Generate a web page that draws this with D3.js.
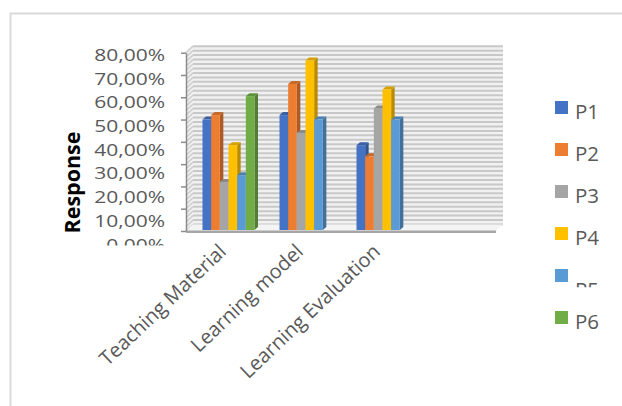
<!DOCTYPE html>
<html><head><meta charset="utf-8">
<script src="https://cdn.jsdelivr.net/npm/d3@7"></script>
<style>body{margin:0;background:#fff;overflow:hidden}</style>
</head><body>
<svg id="c" width="622" height="406"></svg>
<script>
// ---- data ----
const categories = ["Teaching Material", "Learning model", "Learning Evaluation", ""];
const seriesNames = ["P1", "P2", "P3", "P4", "P5", "P6"];
const P1 = [50, 52, 38.5, null];
const P2 = [52, 66, 33.5, null];
const P3 = [22, 44, 55, null];
const P4 = [38.5, 76.5, 63.5, null];
const P5 = [25, 50, 50, null];
const P6 = [60.5, null, null, null];
const seriesValues = [P1, P2, P3, P4, P5, P6];
const yTickValues = [0, 10, 20, 30, 40, 50, 60, 70, 80];
const yTickLabels = ["0,00%", "10,00%", "20,00%", "30,00%", "40,00%", "50,00%", "60,00%", "70,00%", "80,00%"];
const colors = ["#4472C4", "#ED7D31", "#A5A5A5", "#FFC000", "#5B9BD5", "#70AD47"];
const yTitle = "Response";

// ---- layout ----
const svg = d3.select("#c");
const font = "'Open Sans', 'Noto Sans', sans-serif";
const textColor = "#595959";

// outer border
svg.append("rect").attr("x", 10.5).attr("y", 13.5).attr("width", 700).attr("height", 500)
  .attr("fill", "#fff").attr("stroke", "#d9d9d9").attr("stroke-width", 2);

const y = d3.scaleLinear().domain([0, 80]).range([231, 52.7]);
const x = d3.scaleBand().domain(categories).range([186, 494]);
const xs = d3.scaleBand().domain(seriesNames).range([16.5, 16.5 + 52]);
const wdx = 7, wdy = -6.5; // wall depth
const bdx = 3.5, bdy = -3; // bar depth

// back wall
const wx0 = 186 + wdx, wx1 = 496 + wdx;
svg.append("rect").attr("x", wx0).attr("y", y(80) + wdy).attr("width", wx1 - wx0)
  .attr("height", y(0) - y(80)).attr("fill", "#f1f1f1");
// side wall
svg.append("path").attr("d", `M186,${y(0)}L186,${y(80)}L${wx0},${y(80)+wdy}L${wx0},${y(0)+wdy}Z`)
  .attr("fill", "#f1f1f1");
const gridVals = d3.range(0, 80.1, 2);
svg.append("g").selectAll("line").data(gridVals).join("line")
  .attr("x1", wx0).attr("x2", wx1)
  .attr("y1", d => y(d) + wdy).attr("y2", d => y(d) + wdy)
  .attr("stroke", "#c8c8c8").attr("stroke-width", 2);
svg.append("g").selectAll("line").data(gridVals).join("line")
  .attr("x1", 186).attr("x2", wx0)
  .attr("y1", d => y(d)).attr("y2", d => y(d) + wdy)
  .attr("stroke", "#cfcfcf").attr("stroke-width", 1.6);

// floor
svg.append("path").attr("d", `M186,${y(0)}L${wx0},${y(0)+wdy}L${wx1},${y(0)+wdy}L496,${y(0)}Z`)
  .attr("fill", "#f4f4f4");
svg.append("line").attr("x1", 186).attr("x2", 496).attr("y1", y(0) + 0.8).attr("y2", y(0) + 0.8)
  .attr("stroke", "#a6a6a6").attr("stroke-width", 2.4);

// y axis
const ax = svg.append("g").attr("transform", "translate(186,0)")
  .call(d3.axisLeft(y).tickValues(yTickValues).tickFormat("").tickSize(5).tickSizeOuter(0));
ax.selectAll("path,line").attr("stroke", "#8c8c8c").attr("stroke-width", 1.5);

// bars
const bars = svg.append("g");
categories.forEach((cat, ci) => {
  seriesValues.forEach((vals, si) => {
    const v = vals[ci];
    if (v == null || v === 0) return;
    const c = d3.color(colors[si]);
    const x0 = x(cat) + xs(seriesNames[si]);
    const w = xs.bandwidth();
    const yt = y(v), yb = y(0) - 1;
    const g = bars.append("g");
    g.append("path").attr("d", `M${x0+w},${yt}L${x0+w+bdx},${yt+bdy}L${x0+w+bdx},${yb+bdy}L${x0+w},${yb}Z`)
      .attr("fill", c.darker(0.9));
    g.append("path").attr("d", `M${x0},${yt}L${x0+bdx},${yt+bdy}L${x0+w+bdx},${yt+bdy}L${x0+w},${yt}Z`)
      .attr("fill", c.darker(0.5));
    g.append("rect").attr("x", x0).attr("y", yt).attr("width", w).attr("height", yb - yt)
      .attr("fill", c);
  });
});

// y tick labels (drawn with slight offset spacing as in reference)
const labelY = d3.scaleLinear().domain([0, 80]).range([244.5, 54.8]);
svg.append("clipPath").attr("id", "ylabclip").append("rect")
  .attr("x", 0).attr("y", 0).attr("width", 180).attr("height", 245.5);
svg.append("g").attr("clip-path", "url(#ylabclip)")
  .selectAll("g").data(yTickValues).join("g")
  .attr("transform", d => `translate(165,${labelY(d)}) scale(1.25,1)`)
  .append("text").text((d, i) => yTickLabels[i])
  .attr("text-anchor", "end").attr("dy", "0.36em")
  .attr("font-family", font).attr("font-size", 16.8).attr("fill", textColor);

// y title
svg.append("text").attr("transform", "translate(80,182.5) rotate(-90)")
  .attr("text-anchor", "middle").attr("font-family", font).attr("font-weight", "bold")
  .attr("font-size", 21.5).attr("fill", "#000").text(yTitle);

// x labels
svg.append("g").selectAll("text").data(categories.filter(d => d !== "")).join("text")
  .attr("transform", d => `translate(${x(d) + x.bandwidth() / 2 + 3},253) rotate(-43.5)`)
  .attr("text-anchor", "end").attr("font-family", font).attr("font-size", 20)
  .attr("fill", textColor).text(d => d);

// legend
svg.append("clipPath").attr("id", "p5clip").append("rect")
  .attr("x", 560).attr("y", 0).attr("width", 80).attr("height", 287.3);
const lg = svg.append("g");
seriesNames.forEach((s, i) => {
  const top = 101 + i * 42;
  lg.append("rect").attr("x", 555).attr("y", top).attr("width", 13).attr("height", 13)
    .attr("fill", colors[i]);
  const t = lg.append("text").attr("x", 575).attr("y", top + (s === "P5" ? 28 : 17.5))
    .attr("font-family", font).attr("font-size", 20.5).attr("fill", textColor).text(s);
  if (s === "P5") t.attr("clip-path", "url(#p5clip)");
});
</script>
</body></html>
